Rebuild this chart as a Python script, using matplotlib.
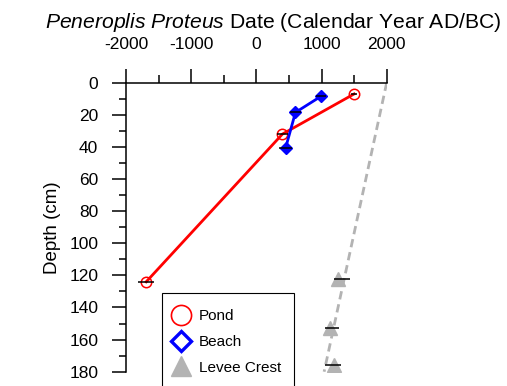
import matplotlib.pyplot as plt
from matplotlib.lines import Line2D
from matplotlib.ticker import MultipleLocator

plt.rcParams['font.family'] = ['Liberation Sans', 'DejaVu Sans']
plt.rcParams['axes.unicode_minus'] = False
plt.rcParams['mathtext.fontset'] = 'custom'
plt.rcParams['mathtext.rm'] = 'Liberation Sans'
plt.rcParams['mathtext.it'] = 'Liberation Sans:italic'

# dates (calendar year) and depths
pond_year = [1500, 400, -1690]
pond_depth = [7, 32, 124]
pond_err = [45, 90, 120]

beach_year = [990, 600, 450]
beach_depth = [8.5, 18.5, 40.5]
beach_err = [80, 80, 95]

levee_year = [1255, 1135, 1195]
levee_depth = [122, 153, 176]
levee_err_lo = [70, 80, 140]
levee_err_hi = [185, 140, 105]

# dashed trend line through the levee crest samples
trend_year = [2000, 1040]
trend_depth = [0, 180]

labels = ['Pond', 'Beach', 'Levee Crest']
gray = '#b3b3b3'

fig = plt.figure(figsize=(5.07, 3.86), dpi=100)
ax = fig.add_axes([0.2485, 0.0370, 0.5142, 0.7487])

ax.plot(trend_year, trend_depth, color=gray, lw=2, dashes=(3.0, 1.8), zorder=1)
ax.plot(pond_year, pond_depth, color='red', lw=2, marker='o', ms=7.5,
        mfc='none', mec='red', mew=1.1, zorder=2)
ax.plot(beach_year, beach_depth, color='blue', lw=2, marker='D', ms=6.3,
        mfc='blue', mec='blue', zorder=3)
ax.plot(levee_year, levee_depth, ls='none', marker='^', ms=10, color=gray, zorder=3)

ax.errorbar(pond_year, pond_depth, xerr=pond_err, fmt='none', ecolor='black',
            elinewidth=1.1, capsize=0, zorder=4)
ax.errorbar(beach_year, beach_depth, xerr=beach_err, fmt='none', ecolor='black',
            elinewidth=1.1, capsize=0, zorder=4)
ax.errorbar(levee_year, levee_depth, xerr=[levee_err_lo, levee_err_hi], fmt='none',
            ecolor='black', elinewidth=1.1, capsize=0, zorder=4)

ax.set_xlim(-2000, 2000)
ax.set_ylim(180, 0)

ax.spines['right'].set_visible(False)
ax.spines['bottom'].set_visible(False)
ax.spines['top'].set_linewidth(1.1)
ax.spines['left'].set_linewidth(1.1)

ax.xaxis.set_ticks_position('top')
ax.set_xticks([-2000, -1000, 0, 1000, 2000])
ax.xaxis.set_minor_locator(MultipleLocator(500))
ax.yaxis.set_major_locator(MultipleLocator(20))
ax.yaxis.set_minor_locator(MultipleLocator(10))

ax.tick_params(axis='x', which='major', length=10, width=1.1, pad=12, labelsize=12.5)
ax.tick_params(axis='x', which='minor', length=5.5, width=1.1)
ax.tick_params(axis='y', which='major', length=10, width=1.1, pad=10, labelsize=12.5)
ax.tick_params(axis='y', which='minor', length=5, width=1.1)

ax.set_ylabel('Depth (cm)', fontsize=13.5, labelpad=6)

fig.text(273 / 507, 1 - 28.5 / 386,
         r'$\mathit{Peneroplis\ Proteus}$ Date (Calendar Year AD/BC)',
         ha='center', va='baseline', fontsize=15.2)

handles = [
    Line2D([], [], ls='none', marker='o', ms=14.5, mfc='none', mec='red', mew=1.2),
    Line2D([], [], ls='none', marker='D', ms=10, mfc='white', mec='blue', mew=2.4),
    Line2D([], [], ls='none', marker='^', ms=15, mfc=gray, mec=gray),
]
leg = fig.legend(handles, labels, loc='upper left',
                 bbox_to_anchor=(161.7 / 507, 0.0, 132.6 / 507, 1 - 293.3 / 386),
                 mode='expand', borderaxespad=0, fontsize=11, numpoints=1,
                 borderpad=1.05, handlelength=0.4, handletextpad=0.96,
                 labelspacing=0.76, fancybox=False, framealpha=1, edgecolor='black')
leg.get_frame().set_linewidth(0.8)

fig.savefig('out.png', dpi=100)
